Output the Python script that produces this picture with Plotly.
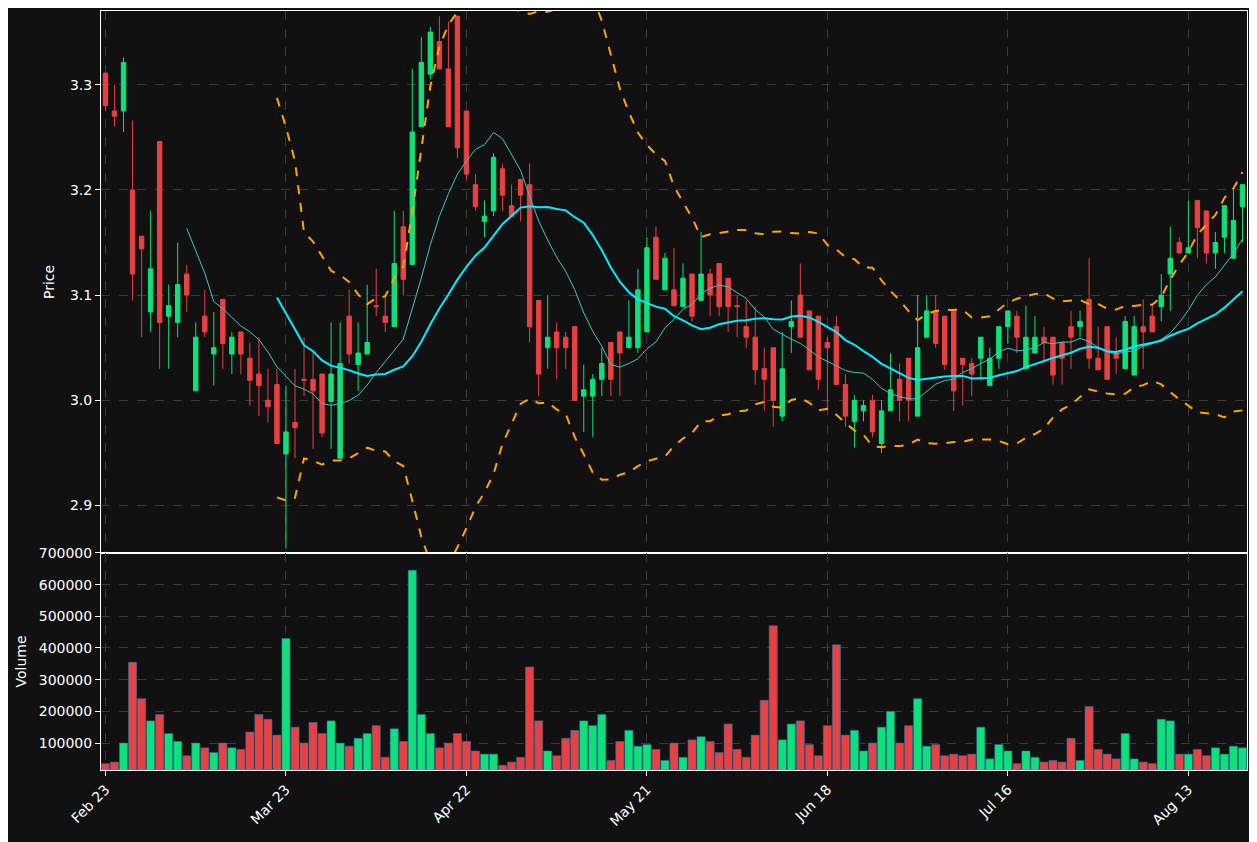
import plotly.graph_objects as go
from plotly.subplots import make_subplots
import pandas as pd

opens = [3.311,3.275,3.275,3.200,3.156,3.084,3.246,3.080,3.074,3.120,3.009,3.080,3.044,3.096,3.044,3.065,3.040,3.025,3.000,3.015,
         2.949,2.979,3.020,3.020,3.025,2.999,2.945,3.080,3.034,3.044,3.090,3.080,3.070,3.165,3.129,3.260,3.310,3.341,3.315,3.365,
         3.275,3.205,3.170,3.180,3.220,3.185,3.210,3.205,3.095,3.050,3.065,3.060,3.070,3.004,3.004,3.020,3.055,3.065,3.050,3.050,
         3.065,3.155,3.105,3.105,3.089,3.120,3.095,3.120,3.130,3.116,3.090,3.070,3.060,3.030,3.050,2.985,3.070,3.100,3.085,3.080,
         3.055,3.070,3.015,2.980,2.990,3.000,2.959,2.990,3.020,3.040,2.985,3.060,3.085,3.080,3.085,3.040,3.035,3.040,3.014,3.040,
         3.070,3.080,3.030,3.045,3.060,3.060,3.055,3.070,3.070,3.096,3.040,3.070,3.045,3.030,3.024,3.070,3.080,3.089,3.120,3.150,
         3.140,3.190,3.180,3.140,3.155,3.135,3.184]
closes = [3.280,3.270,3.321,3.120,3.144,3.125,3.074,3.090,3.110,3.100,3.060,3.065,3.050,3.054,3.060,3.044,3.019,3.014,2.994,2.959,
          2.970,2.974,3.019,3.009,2.969,3.025,3.035,3.044,3.045,3.055,3.089,3.074,3.130,3.115,3.255,3.321,3.350,3.315,3.260,3.240,
          3.215,3.184,3.175,3.231,3.195,3.175,3.195,3.070,3.025,3.060,3.050,3.050,3.000,3.010,3.020,3.035,3.020,3.045,3.060,3.105,
          3.145,3.115,3.135,3.090,3.116,3.080,3.120,3.100,3.089,3.089,3.089,3.060,3.029,3.020,3.000,3.030,3.075,3.060,3.029,3.020,
          3.050,3.015,2.985,3.000,2.995,2.970,2.990,3.010,3.000,3.000,3.050,3.085,3.054,3.034,3.009,3.034,3.025,3.060,3.040,3.070,
          3.085,3.060,3.060,3.060,3.055,3.024,3.040,3.060,3.075,3.040,3.029,3.020,3.040,3.075,3.070,3.065,3.065,3.100,3.135,3.140,
          3.145,3.164,3.140,3.150,3.185,3.171,3.205]
highs = [3.311,3.300,3.326,3.266,3.156,3.180,3.246,3.110,3.150,3.129,3.074,3.105,3.084,3.096,3.065,3.065,3.055,3.060,3.030,3.030,
         3.014,3.030,3.060,3.045,3.025,3.074,3.074,3.105,3.074,3.110,3.125,3.100,3.180,3.180,3.315,3.345,3.355,3.365,3.360,3.365,
         3.275,3.215,3.190,3.235,3.225,3.205,3.210,3.225,3.095,3.100,3.074,3.065,3.070,3.034,3.025,3.050,3.055,3.065,3.095,3.125,
         3.155,3.165,3.140,3.145,3.130,3.120,3.160,3.125,3.130,3.116,3.100,3.095,3.089,3.050,3.050,3.065,3.095,3.130,3.085,3.080,
         3.060,3.080,3.025,3.005,3.000,3.005,3.000,3.045,3.035,3.040,3.100,3.100,3.100,3.080,3.085,3.040,3.040,3.060,3.050,3.070,
         3.085,3.085,3.090,3.080,3.070,3.060,3.055,3.085,3.085,3.135,3.070,3.070,3.060,3.080,3.080,3.096,3.090,3.120,3.165,3.155,
         3.190,3.190,3.180,3.160,3.185,3.200,3.205]
lows = [3.275,3.260,3.255,3.095,3.060,3.065,3.030,3.030,3.060,3.084,3.009,3.060,3.014,3.030,3.025,3.025,2.995,2.985,2.979,2.959,
        2.859,2.945,3.004,2.954,2.965,2.954,2.945,3.035,3.009,3.044,3.080,3.065,3.070,3.100,3.129,3.260,3.305,3.315,3.260,3.230,
        3.210,3.180,3.155,3.175,3.180,3.175,3.170,3.055,3.004,3.030,3.020,3.030,3.000,2.970,2.965,3.004,3.004,3.004,3.050,3.045,
        3.065,3.115,3.105,3.089,3.089,3.075,3.095,3.080,3.080,3.065,3.060,3.050,3.015,2.990,2.975,2.980,3.045,3.060,3.029,3.010,
        2.990,3.015,2.975,2.955,2.980,2.965,2.950,2.990,2.980,2.980,2.985,3.060,3.050,3.029,2.990,2.995,3.004,3.021,3.014,3.030,
        3.054,3.045,3.030,3.045,3.035,3.015,3.015,3.030,3.060,3.030,3.029,3.020,3.025,3.030,3.024,3.030,3.065,3.075,3.085,3.140,
        3.140,3.135,3.130,3.125,3.140,3.135,3.150]
volumes = [35000,40000,100000,355000,240000,170000,190000,130000,105000,60000,100000,85000,70000,100000,85000,80000,135000,190000,175000,125000,
           430000,150000,100000,165000,130000,170000,100000,90000,115000,130000,155000,55000,145000,105000,645000,190000,130000,85000,100000,130000,
           105000,75000,65000,65000,30000,40000,55000,340000,170000,75000,60000,115000,140000,170000,155000,190000,45000,105000,140000,90000,
           95000,80000,45000,100000,55000,110000,120000,105000,70000,160000,80000,55000,125000,235000,470000,110000,160000,170000,95000,60000,
           155000,410000,125000,140000,75000,100000,150000,200000,100000,155000,240000,90000,95000,60000,65000,60000,65000,150000,50000,95000,
           75000,35000,75000,55000,40000,45000,40000,115000,45000,215000,80000,65000,50000,130000,50000,40000,35000,175000,170000,65000,
           65000,80000,60000,85000,65000,90000,85000]
tick_pos = [0, 20, 40, 60, 80, 100, 120]
tick_labels = ["Feb 23", "Mar 23", "Apr 22", "May 21", "Jun 18", "Jul 16", "Aug 13"]

UP, DOWN = "#0fe07a", "#e84142"
BG = "#111111"
idx = list(range(len(closes)))
c = pd.Series(closes)
ma10 = c.rolling(10).mean()
ma20 = c.rolling(20).mean()
sd20 = c.rolling(20).std()
upper = ma20 + 2 * sd20
lower = ma20 - 2 * sd20

fig = make_subplots(rows=2, cols=1, shared_xaxes=True, row_heights=[0.714, 0.286], vertical_spacing=0)
fig.add_trace(go.Candlestick(x=idx, open=opens, high=highs, low=lows, close=closes,
                             increasing=dict(fillcolor=UP, line=dict(color=UP, width=1)),
                             decreasing=dict(fillcolor=DOWN, line=dict(color=DOWN, width=1)),
                             whiskerwidth=0, showlegend=False), row=1, col=1)
fig.add_trace(go.Scatter(x=idx, y=ma10, mode="lines", line=dict(color="#40c8c0", width=1), showlegend=False), row=1, col=1)
fig.add_trace(go.Scatter(x=idx, y=ma20, mode="lines", line=dict(color="#00eeff", width=2), showlegend=False), row=1, col=1)
for b in (upper, lower):
    fig.add_trace(go.Scatter(x=idx, y=b, mode="lines", line=dict(color="orange", width=2, dash="dash"), showlegend=False), row=1, col=1)
vcol = [UP if cl >= op else DOWN for op, cl in zip(opens, closes)]
fig.add_trace(go.Bar(x=idx, y=volumes, marker=dict(color=vcol, line=dict(color="#1f77b4", width=0.6)),
                     width=0.9, showlegend=False), row=2, col=1)

grid = dict(showgrid=True, gridcolor="#3a3a3a", griddash="dash", gridwidth=1, zeroline=False,
            showline=True, linecolor="white", linewidth=1, mirror=True, automargin=False,
            tickfont=dict(color="white", size=14), ticks="outside", tickcolor="white")
fig.update_xaxes(**grid, range=[-0.5, 126.5], tickvals=tick_pos, ticktext=tick_labels, rangeslider_visible=False)
fig.update_xaxes(tickangle=-45, row=2, col=1)
fig.update_yaxes(**grid)
fig.update_yaxes(range=[2.855, 3.370], tickvals=[2.9, 3.0, 3.1, 3.2, 3.3], tickformat=".1f",
                 title=dict(text="Price", font=dict(color="white", size=14), standoff=12), row=1, col=1)
fig.update_yaxes(range=[15000, 700000], tickvals=[100000, 200000, 300000, 400000, 500000, 600000, 700000], tickformat="d",
                 title=dict(text="Volume", font=dict(color="white", size=14), standoff=8), row=2, col=1)
fig.update_layout(width=1249, height=834, paper_bgcolor=BG, plot_bgcolor=BG,
                  margin=dict(l=93, r=10, t=3, b=72), bargap=0.1,
                  font=dict(family="DejaVu Sans", color="white"))
fig.write_html("out.html")
